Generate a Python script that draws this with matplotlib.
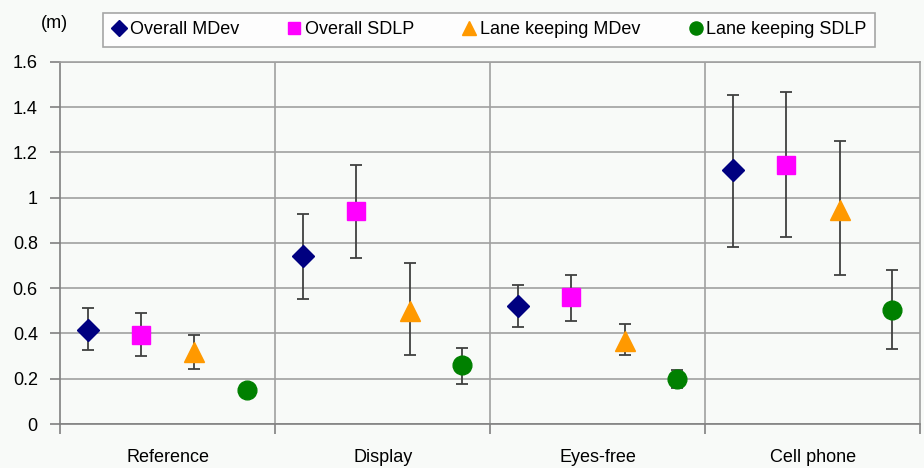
import numpy as np
import matplotlib.pyplot as plt

plt.rcParams['font.family'] = ['Liberation Sans', 'DejaVu Sans']

# -----------------------------
# Data (metres)
# -----------------------------
conditions = ["Reference", "Display", "Eyes-free", "Cell phone"]
series_names = ["Overall MDev", "Overall SDLP", "Lane keeping MDev", "Lane keeping SDLP"]

overall_mdev = [0.415, 0.74, 0.52, 1.12]
overall_mdev_lo = [0.325, 0.553, 0.43, 0.78]
overall_mdev_hi = [0.513, 0.928, 0.615, 1.455]

overall_sdlp = [0.395, 0.94, 0.56, 1.145]
overall_sdlp_lo = [0.30, 0.734, 0.455, 0.827]
overall_sdlp_hi = [0.49, 1.146, 0.66, 1.465]

lk_mdev = [0.32, 0.50, 0.365, 0.946]
lk_mdev_lo = [0.243, 0.305, 0.305, 0.66]
lk_mdev_hi = [0.392, 0.71, 0.44, 1.25]

lk_sdlp = [0.15, 0.26, 0.20, 0.505]
lk_sdlp_lo = [np.nan, 0.177, 0.16, 0.33]
lk_sdlp_hi = [np.nan, 0.336, 0.24, 0.68]

yticks = [0, 0.2, 0.4, 0.6, 0.8, 1, 1.2, 1.4, 1.6]
ytick_labels = ["0", "0.2", "0.4", "0.6", "0.8", "1", "1.2", "1.4", "1.6"]

# -----------------------------
# Styles
# -----------------------------
series = [
    (overall_mdev, overall_mdev_lo, overall_mdev_hi, "D", "#000080", 11),
    (overall_sdlp, overall_sdlp_lo, overall_sdlp_hi, "s", "#ff00ff", 13),
    (lk_mdev, lk_mdev_lo, lk_mdev_hi, "^", "#ff9900", 15),
    (lk_sdlp, lk_sdlp_lo, lk_sdlp_hi, "o", "#008000", 13.5),
]
offsets = [-0.37, -0.125, 0.125, 0.37]
BG = "#f8faf8"
GRID = "#a0a0a0"
ERR = "#404040"
FS = 13

fig = plt.figure(figsize=(9.24, 4.68), dpi=100, facecolor=BG)
ax = fig.add_axes([0.065, 0.094, 0.931, 0.774], facecolor=BG)

centers = np.arange(len(conditions)) + 0.5
handles = []
for (vals, lo, hi, marker, color, ms), off, name in zip(series, offsets, series_names):
    vals = np.array(vals, dtype=float)
    lo = np.array(lo, dtype=float)
    hi = np.array(hi, dtype=float)
    x = centers + off
    has_err = ~np.isnan(lo)
    ax.errorbar(x[has_err], vals[has_err],
                yerr=[vals[has_err] - lo[has_err], hi[has_err] - vals[has_err]],
                fmt="none", ecolor=ERR, elinewidth=1.3, capsize=4, capthick=1.3,
                zorder=3)
    h, = ax.plot(x, vals, linestyle="none", marker=marker, markersize=ms,
                 color=color, markeredgecolor=color, zorder=4, label=name)
    handles.append(h)

# axes, grid and group separators
ax.set_xlim(0, len(conditions))
ax.set_ylim(0, 1.6)
ax.set_yticks(yticks)
ax.set_yticklabels(ytick_labels, fontsize=FS)
ax.set_xticks(centers)
ax.set_xticklabels(conditions, fontsize=FS)
ax.tick_params(axis="x", which="major", length=0, pad=18)
ax.set_xticks(np.arange(len(conditions) + 1), minor=True)
ax.tick_params(axis="x", which="minor", length=7, color="#808080", width=1.2)
ax.tick_params(axis="y", length=7, color="#808080", width=1.2, pad=9)
ax.grid(axis="y", color=GRID, linewidth=1.2, zorder=0)
for b in range(1, len(conditions)):
    ax.axvline(b, color=GRID, linewidth=1.2, zorder=0)
for side in ["left", "bottom"]:
    ax.spines[side].set_color("#808080")
    ax.spines[side].set_linewidth(1.2)
for side in ["top", "right"]:
    ax.spines[side].set_color(GRID)
    ax.spines[side].set_linewidth(1.2)

# unit label and legend
fig.text(0.059, 0.95, "(m)", fontsize=FS, ha="center", va="center")
leg = fig.legend(handles=handles, loc="center", ncol=4,
                 bbox_to_anchor=(0.529, 0.936), fontsize=FS, frameon=True,
                 fancybox=False, edgecolor="#909090", facecolor="white",
                 handletextpad=0.15, columnspacing=2.6, borderpad=0.45,
                 handlelength=0.9, markerscale=0.7)
leg.get_frame().set_linewidth(1.2)

fig.savefig("out.png", dpi=100, facecolor=BG)
